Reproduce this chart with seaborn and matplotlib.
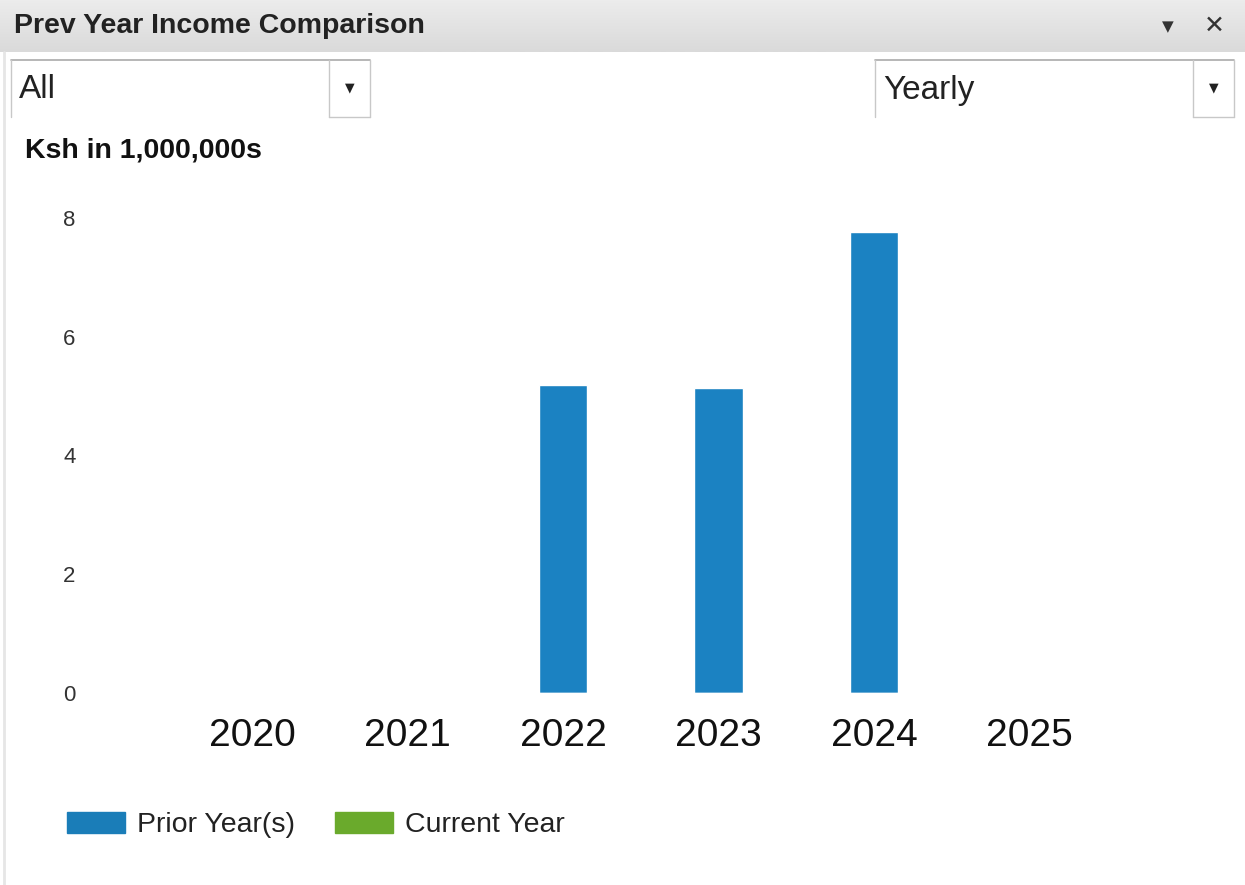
import matplotlib
matplotlib.use("Agg")
import matplotlib.pyplot as plt
import numpy as np
import pandas as pd
import seaborn as sns
from matplotlib.patches import Patch
from matplotlib.lines import Line2D

# ---- data ----
years = ["2020", "2021", "2022", "2023", "2024", "2025"]
prior_values = [0.0, 0.0, 5.19, 5.13, 7.76, 0.0]
current_values = [0.0, 0.0, 0.0, 0.0, 0.0, 0.0]
series_names = ["Prior Year(s)", "Current Year"]
y_ticks = [0, 2, 4, 6, 8]

title_text = "Prev Year Income Comparison"
unit_text = "Ksh in 1,000,000s"
filter_left = "All"
filter_right = "Yearly"

BLUE = "#1b82c2"
GREEN = "#6aaa2c"

sns.set_theme(style="white")
plt.rcParams["font.family"] = ["Liberation Sans", "DejaVu Sans"]

W, H = 1245, 885
fig = plt.figure(figsize=(W / 100, H / 100), dpi=100)
fig.patch.set_facecolor("white")

def fx(px):
    return px / W

def fy(py):
    return 1 - py / H

# header gradient bar
hax = fig.add_axes([0, fy(52), 1, 52 / H])
grad = np.linspace(0, 1, 50).reshape(-1, 1)
hax.imshow(grad, aspect="auto", cmap=matplotlib.colors.LinearSegmentedColormap.from_list(
    "g", ["#ececec", "#dadada"]), extent=[0, 1, 0, 1])
hax.set_axis_off()

fig.text(fx(14), fy(26), title_text, fontsize=20.5, fontweight="bold",
         color="#222222", va="center", ha="left")
fig.text(fx(1168), fy(27), "\u25BC", fontsize=11, color="#333333",
         va="center", ha="center", family="DejaVu Sans")
fig.text(fx(1214), fy(26), "\u2715", fontsize=18, fontweight="bold",
         color="#333333", va="center", ha="center", family="DejaVu Sans")

# dropdown boxes
def dropdown(x0, x1, sep, label):
    c = "#c8c8c8"
    fig.add_artist(Line2D([fx(x0), fx(x1)], [fy(60), fy(60)], color="#aaaaaa", lw=1.2))
    fig.add_artist(Line2D([fx(x0), fx(x0)], [fy(60), fy(117)], color=c, lw=1))
    fig.add_artist(Line2D([fx(sep), fx(sep)], [fy(60), fy(117)], color=c, lw=1))
    fig.add_artist(Line2D([fx(x1), fx(x1)], [fy(60), fy(117)], color=c, lw=1))
    fig.add_artist(Line2D([fx(sep), fx(x1)], [fy(117), fy(117)], color=c, lw=1))
    fig.text(fx(x0 + 8), fy(90), label, fontsize=24, color="#222222",
             va="center", ha="left")
    fig.text(fx((sep + x1) / 2), fy(88), "\u25BC", fontsize=9, color="#222222",
             va="center", ha="center", family="DejaVu Sans")

dropdown(11, 370, 329, filter_left)
dropdown(875, 1234, 1193, filter_right)

fig.text(fx(25), fy(151), unit_text, fontsize=20.5, fontweight="bold",
         color="#111111", va="center", ha="left")

# main axes
ax = fig.add_axes([fx(96.5), fy(693), fx(1185 - 96.5), (693 - 200) / H])
df = pd.DataFrame({
    "year": years * 2,
    "value": prior_values + current_values,
    "series": [series_names[0]] * len(years) + [series_names[1]] * len(years),
})
sns.barplot(data=df, x="year", y="value", hue="series", order=years,
            hue_order=series_names, palette=[BLUE, GREEN], dodge=False,
            width=0.31, legend=False, ax=ax, saturation=1)
ax.set_xlim(-1, 6)
ax.set_ylim(0, 8.3)
ax.set_yticks(y_ticks)
ax.set_yticklabels([str(t) for t in y_ticks], fontsize=16, color="#333333")
ax.set_xticks(range(len(years)))
ax.set_xticklabels(years, fontsize=28, color="#111111")
ax.tick_params(axis="y", length=0, pad=15)
ax.tick_params(axis="x", length=0, pad=18)
ax.set_xlabel("")
ax.set_ylabel("")
for s in ax.spines.values():
    s.set_visible(False)
ax.set_facecolor("white")

handles = [Patch(facecolor="#1a7db8", edgecolor="#1a7db8"),
           Patch(facecolor=GREEN, edgecolor=GREEN)]
fig.legend(handles, series_names, loc="center left",
           bbox_to_anchor=(fx(41), fy(825)), ncol=2, frameon=False,
           fontsize=20.5, handlelength=2.05, handleheight=0.75,
           columnspacing=1.4, handletextpad=0.42, labelcolor="#222222")

# faint left border of the panel
fig.add_artist(Line2D([fx(4), fx(4)], [fy(52), fy(885)], color="#e6e6e6", lw=2))

fig.savefig("out.png", dpi=100)
